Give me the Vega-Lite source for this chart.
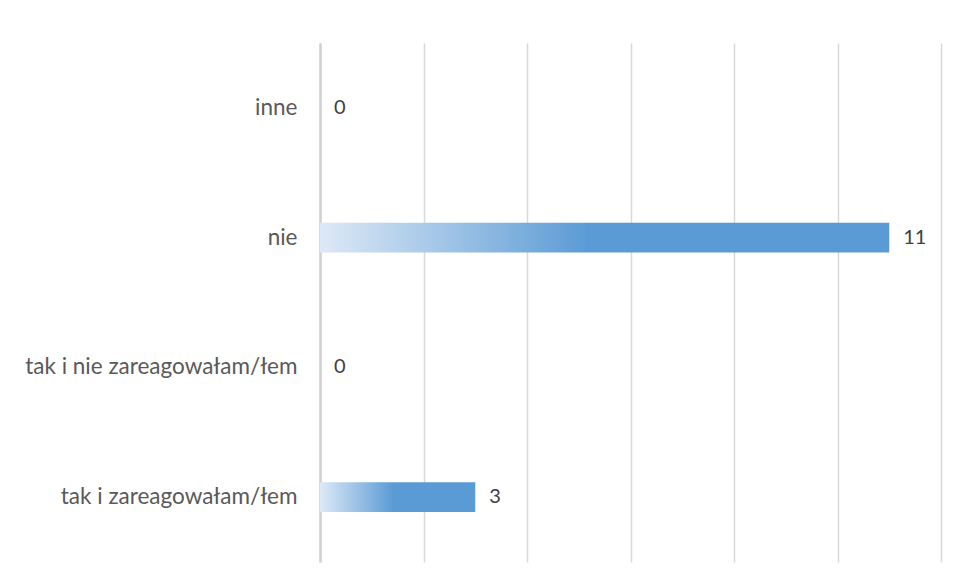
{
  "$schema": "https://vega.github.io/schema/vega-lite/v6.json",
  "width": 621,
  "height": 519,
  "autosize": {"type": "none"},
  "padding": {"left": 320, "top": 43, "right": 15, "bottom": 19},
  "background": "white",
  "config": {"view": {"stroke": null}, "font": "Lato"},
  "data": {
    "values": [
      {"kategoria": "inne", "liczba": 0},
      {"kategoria": "nie", "liczba": 11},
      {"kategoria": "tak i nie zareagowałam/łem", "liczba": 0},
      {"kategoria": "tak i zareagowałam/łem", "liczba": 3}
    ]
  },
  "encoding": {
    "y": {
      "field": "kategoria",
      "type": "nominal",
      "sort": null,
      "scale": {"paddingInner": 0.77, "paddingOuter": 0.385},
      "axis": {
        "title": null,
        "ticks": false,
        "domain": true,
        "domainColor": "#d0d0d0",
        "domainWidth": 2.5,
        "labelPadding": 23,
        "labelFontSize": 22.5,
        "labelLimit": 0,
        "labelColor": "#595959",
        "labelFont": "Lato"
      }
    },
    "x": {
      "field": "liczba",
      "type": "quantitative",
      "scale": {"domain": [0, 12], "nice": false},
      "axis": {
        "title": null,
        "labels": false,
        "ticks": false,
        "domain": false,
        "values": [0, 2, 4, 6, 8, 10, 12],
        "grid": true,
        "gridColor": "#d9d9d9",
        "gridWidth": 1.5
      }
    }
  },
  "layer": [
    {
      "mark": {
        "type": "bar",
        "color": {
          "gradient": "linear",
          "x1": 0, "x2": 1, "y1": 0, "y2": 0,
          "stops": [
            {"offset": 0, "color": "#dde9f6"},
            {"offset": 0.47, "color": "#5b9bd5"},
            {"offset": 1, "color": "#5b9bd5"}
          ]
        }
      }
    },
    {
      "mark": {"type": "text", "align": "left", "baseline": "middle", "dx": 14, "fontSize": 20, "color": "#404040", "font": "Lato"},
      "encoding": {"text": {"field": "liczba", "type": "quantitative"}}
    }
  ]
}
